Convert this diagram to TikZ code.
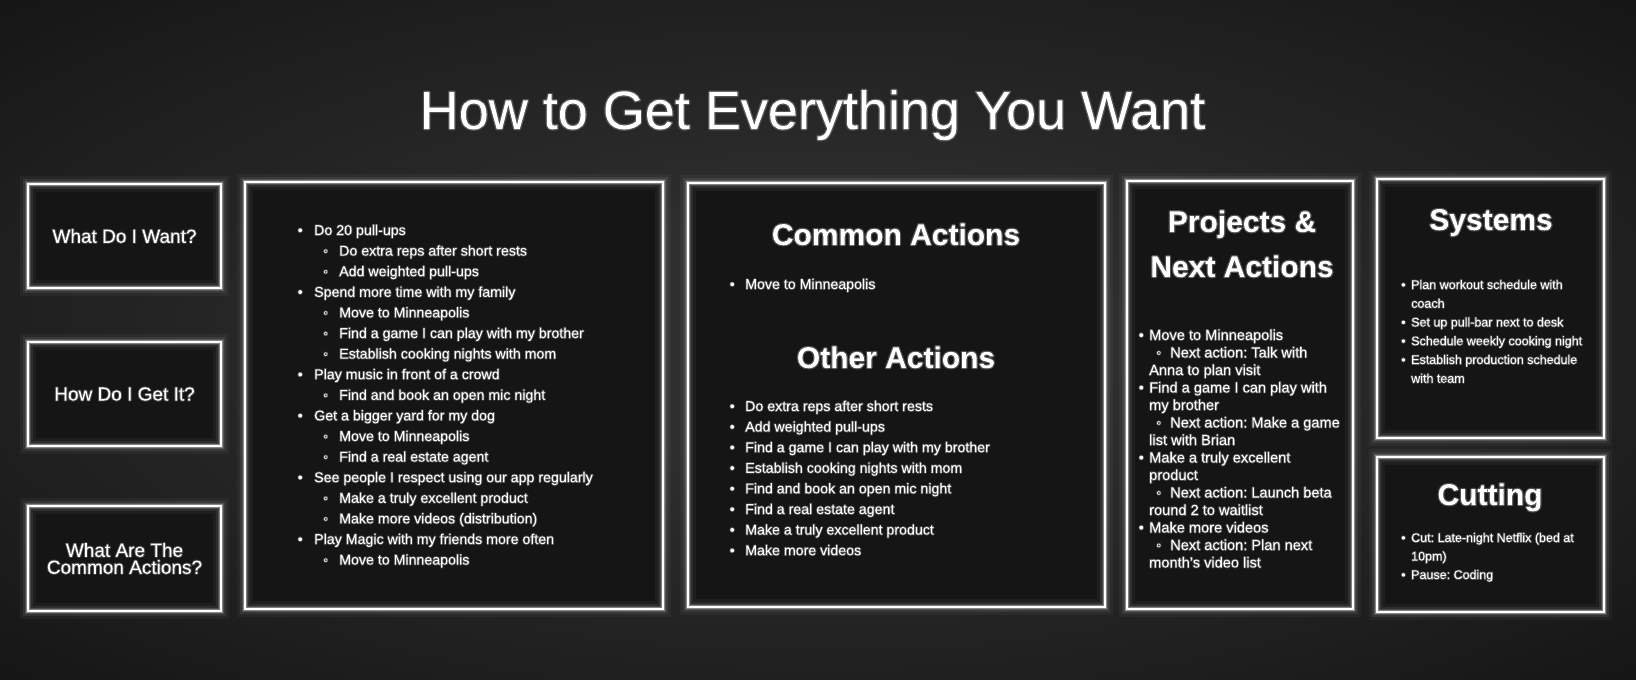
\documentclass[tikz,border=0pt]{standalone}
\usepackage{fontspec}
\setmainfont{Liberation Sans}
\frenchspacing
\definecolor{bgin}{HTML}{2F2F2F}
\definecolor{bgout}{HTML}{111111}
\definecolor{boxfill}{HTML}{151515}
\pgfdeclareradialshading{vign}{\pgfpoint{0bp}{0bp}}{color(0bp)=(bgin); color(8bp)=(bgin); color(28bp)=(bgout!60!bgin); color(40bp)=(bgout); color(50bp)=(bgout)}
\newcommand\bulA[2]{\makebox[#1][l]{•}#2}
\newcommand\bulB[3]{\hspace*{#1}\makebox[#2][l]{◦}#3}
\newcommand\glowon[2]{\pgfsetstrokeopacity{#1}\special{pdf:literal direct 2 Tr 1 j 1 G #2 w}}
\newcommand\glowoff{\special{pdf:literal direct 0 Tr}}
\tikzset{
  panel/.style={draw=white, line width=2pt, inner sep=0pt, text=white,
    preaction={fill=boxfill},
    preaction={draw=white, draw opacity=0.04, line width=16pt},
    preaction={draw=white, draw opacity=0.07, line width=10pt},
    preaction={draw=white, draw opacity=0.14, line width=6pt},
    preaction={draw=white, draw opacity=0.30, line width=3.5pt}},
  glow/.style 2 args={execute at begin node={\glowon{#1}{#2}}, execute at end node={\glowoff}},
  lefttext/.style={font=\fontsize{19}{17}\selectfont, align=center, glow={0.25}{1.8}},
  head/.style={font=\fontsize{30}{45}\selectfont\bfseries, text=white, anchor=base, inner sep=0pt, glow={0.25}{2.4}},
  listtext/.style={anchor=base west, inner sep=0pt, text=white, glow={0.25}{1.6}}
}
\begin{document}
\begin{tikzpicture}[x=1pt,y=-1pt]
\useasboundingbox (0,0) rectangle (1636,680);
\shade[shading=vign] (0,0) rectangle (1636,680);

\node[text=white, anchor=base, inner sep=0pt, font=\fontsize{54}{60}\selectfont, glow={0.22}{2.6}] (title) at (812.5,129) {How to Get Everything You Want};

% left column
\node[panel, lefttext, minimum width=193pt, minimum height=104pt] (q1) at (124.5,236) {What Do I Want?};
\node[panel, lefttext, minimum width=193pt, minimum height=104pt] (q2) at (124.5,394) {How Do I Get It?};
\node[panel, lefttext, minimum width=193pt, minimum height=105pt] (q3) at (124.5,558.5) {What Are The\\Common Actions?};

% panels
\node[panel, minimum width=418pt, minimum height=427pt] (wantbox) at (454,395.5) {};
\node[panel, minimum width=417pt, minimum height=424pt] (commonbox) at (896.5,395) {};
\node[panel, minimum width=226pt, minimum height=428pt] (projbox) at (1240,395) {};
\node[panel, minimum width=227pt, minimum height=259pt] (sysbox) at (1490.5,308.5) {};
\node[panel, minimum width=227pt, minimum height=155pt] (cutbox) at (1490.5,534.5) {};

% want list
\node[listtext, font=\fontsize{14.2}{20.6}\selectfont] (wantlist) at (297.5,235) {\parbox[t]{360pt}{%
\bulA{16.5pt}{Do 20 pull-ups}\\
\bulB{25.5pt}{16pt}{Do extra reps after short rests}\\
\bulB{25.5pt}{16pt}{Add weighted pull-ups}\\
\bulA{16.5pt}{Spend more time with my family}\\
\bulB{25.5pt}{16pt}{Move to Minneapolis}\\
\bulB{25.5pt}{16pt}{Find a game I can play with my brother}\\
\bulB{25.5pt}{16pt}{Establish cooking nights with mom}\\
\bulA{16.5pt}{Play music in front of a crowd}\\
\bulB{25.5pt}{16pt}{Find and book an open mic night}\\
\bulA{16.5pt}{Get a bigger yard for my dog}\\
\bulB{25.5pt}{16pt}{Move to Minneapolis}\\
\bulB{25.5pt}{16pt}{Find a real estate agent}\\
\bulA{16.5pt}{See people I respect using our app regularly}\\
\bulB{25.5pt}{16pt}{Make a truly excellent product}\\
\bulB{25.5pt}{16pt}{Make more videos (distribution)}\\
\bulA{16.5pt}{Play Magic with my friends more often}\\
\bulB{25.5pt}{16pt}{Move to Minneapolis}}};

% common / other actions
\node[head] (commonhead) at (896,245) {Common Actions};
\node[listtext, font=\fontsize{14.2}{20.6}\selectfont] (commonlist) at (729.5,289) {\parbox[t]{340pt}{%
\bulA{15.5pt}{Move to Minneapolis}}};
\node[head] (otherhead) at (896,368) {Other Actions};
\node[listtext, font=\fontsize{14.2}{20.6}\selectfont] (otherlist) at (729.5,411) {\parbox[t]{340pt}{%
\bulA{15.5pt}{Do extra reps after short rests}\\
\bulA{15.5pt}{Add weighted pull-ups}\\
\bulA{15.5pt}{Find a game I can play with my brother}\\
\bulA{15.5pt}{Establish cooking nights with mom}\\
\bulA{15.5pt}{Find and book an open mic night}\\
\bulA{15.5pt}{Find a real estate agent}\\
\bulA{15.5pt}{Make a truly excellent product}\\
\bulA{15.5pt}{Make more videos}}};

% projects
\node[head] (projhead1) at (1242,232) {Projects \&};
\node[head] (projhead2) at (1242,277) {Next Actions};
\node[listtext, font=\fontsize{14.6}{17.5}\selectfont] (projlist) at (1138.5,340) {\parbox[t]{220pt}{%
\bulA{10.5pt}{Move to Minneapolis}\\
\bulB{17.5pt}{14pt}{Next action: Talk with}\\
\hspace*{10.5pt}Anna to plan visit\\
\bulA{10.5pt}{Find a game I can play with}\\
\hspace*{10.5pt}my brother\\
\bulB{17.5pt}{14pt}{Next action: Make a game}\\
\hspace*{10.5pt}list with Brian\\
\bulA{10.5pt}{Make a truly excellent}\\
\hspace*{10.5pt}product\\
\bulB{17.5pt}{14pt}{Next action: Launch beta}\\
\hspace*{10.5pt}round 2 to waitlist\\
\bulA{10.5pt}{Make more videos}\\
\bulB{17.5pt}{14pt}{Next action: Plan next}\\
\hspace*{10.5pt}month’s video list}};

% systems
\node[head] (syshead) at (1491,230) {Systems};
\node[listtext, font=\fontsize{12.5}{18.75}\selectfont] (syslist) at (1401,289) {\parbox[t]{220pt}{%
\bulA{10pt}{Plan workout schedule with}\\
\hspace*{10pt}coach\\
\bulA{10pt}{Set up pull-bar next to desk}\\
\bulA{10pt}{Schedule weekly cooking night}\\
\bulA{10pt}{Establish production schedule}\\
\hspace*{10pt}with team}};

% cutting
\node[head] (cuthead) at (1490,505) {Cutting};
\node[listtext, font=\fontsize{12.5}{18.5}\selectfont] (cutlist) at (1401,542) {\parbox[t]{220pt}{%
\bulA{10pt}{Cut: Late-night Netflix (bed at}\\
\hspace*{10pt}10pm)\\
\bulA{10pt}{Pause: Coding}}};
\end{tikzpicture}
\end{document}
